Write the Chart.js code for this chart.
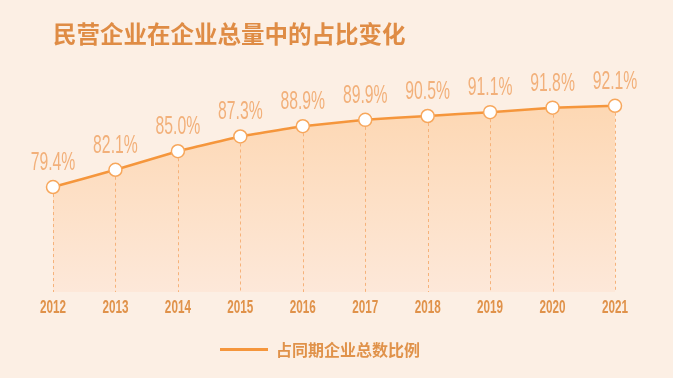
<!DOCTYPE html>
<html>
<head>
<meta charset="utf-8">
<script src="https://cdn.jsdelivr.net/npm/chart.js@4"></script>
<style>
  html, body { margin: 0; padding: 0; background: #fcefe4; }
  #wrap { width: 673px; height: 378px; position: relative; }
</style>
</head>
<body>
<div id="wrap"><canvas id="shareChart"></canvas></div>
<script>
// data
const years = ['2012', '2013', '2014', '2015', '2016', '2017', '2018', '2019', '2020', '2021'];
const shares = [79.4, 82.1, 85.0, 87.3, 88.9, 89.9, 90.5, 91.1, 91.8, 92.1];
const seriesName = '占同期企业总数比例';
const chartTitle = '民营企业在企业总量中的占比变化';

const orange = '#f5963c';
const textOrange = '#e0924a';

// draw condensed text by squeezing the context horizontally
function narrowText(ctx, text, x, y, squeeze) {
  ctx.save();
  ctx.translate(x, y);
  ctx.scale(squeeze, 1);
  ctx.fillText(text, 0, 0);
  ctx.restore();
}

// dashed drop lines, value labels, year labels and the legend
const decorPlugin = {
  id: 'decor',
  afterDatasetsDraw(chart) {
    const ctx = chart.ctx;
    const meta = chart.getDatasetMeta(0);
    const area = chart.chartArea;
    const xScale = chart.scales.x;

    // dashed lines from each point down to the base
    ctx.save();
    ctx.strokeStyle = '#f6b27a';
    ctx.lineWidth = 1;
    ctx.setLineDash([3, 3]);
    meta.data.forEach(pt => {
      ctx.beginPath();
      ctx.moveTo(Math.round(pt.x) + 0.5, pt.y + 7);
      ctx.lineTo(Math.round(pt.x) + 0.5, area.bottom);
      ctx.stroke();
    });
    ctx.restore();

    // value labels
    ctx.save();
    ctx.fillStyle = '#f2b07a';
    ctx.font = '25px "Liberation Sans", sans-serif';
    ctx.textAlign = 'center';
    ctx.textBaseline = 'middle';
    meta.data.forEach((pt, i) => {
      narrowText(ctx, shares[i].toFixed(1) + '%', pt.x, pt.y - 24, 0.63);
    });
    ctx.restore();

    // year labels under the axis
    ctx.save();
    ctx.fillStyle = textOrange;
    ctx.font = 'bold 18px "Liberation Sans", sans-serif';
    ctx.textAlign = 'center';
    ctx.textBaseline = 'middle';
    years.forEach((yr, i) => {
      narrowText(ctx, yr, xScale.getPixelForValue(i), area.bottom + 16, 0.65);
    });
    ctx.restore();

    // legend
    ctx.save();
    ctx.strokeStyle = orange;
    ctx.lineWidth = 3;
    ctx.beginPath();
    ctx.moveTo(220, 349.5);
    ctx.lineTo(268, 349.5);
    ctx.stroke();
    ctx.fillStyle = textOrange;
    ctx.font = 'bold 16px "Noto Sans CJK SC", sans-serif';
    ctx.textAlign = 'left';
    ctx.textBaseline = 'middle';
    ctx.fillText(seriesName, 276, 350);
    ctx.restore();
  }
};

const canvas = document.getElementById('shareChart');
new Chart(canvas, {
  type: 'line',
  data: {
    labels: years,
    datasets: [{
      label: seriesName,
      data: shares,
      borderColor: orange,
      borderWidth: 2.5,
      tension: 0.1,
      fill: 'start',
      backgroundColor: function(context) {
        const area = context.chart.chartArea;
        if (!area) return 'rgba(253,214,174,0.8)';
        const g = context.chart.ctx.createLinearGradient(0, area.top, 0, area.bottom);
        g.addColorStop(0, '#fdd3a9');
        g.addColorStop(1, '#fde8d9');
        return g;
      },
      pointRadius: 6.5,
      pointHoverRadius: 6.5,
      pointBackgroundColor: '#ffffff',
      pointBorderColor: '#f7a75c',
      pointBorderWidth: 1.5
    }]
  },
  options: {
    responsive: true,
    maintainAspectRatio: false,
    animation: false,
    layout: { padding: { left: 53, right: 58, top: 0, bottom: 86 } },
    scales: {
      x: { display: false, offset: false },
      y: { display: false, min: 63, max: 100 }
    },
    plugins: {
      title: {
        display: true,
        text: chartTitle,
        align: 'start',
        color: '#df8c45',
        padding: { top: 20, bottom: 7 },
        font: { family: '"Noto Sans CJK SC", sans-serif', size: 23.5, weight: 'bold' }
      },
      legend: { display: false },
      tooltip: { enabled: false }
    }
  },
  plugins: [decorPlugin]
});
</script>
</body>
</html>
